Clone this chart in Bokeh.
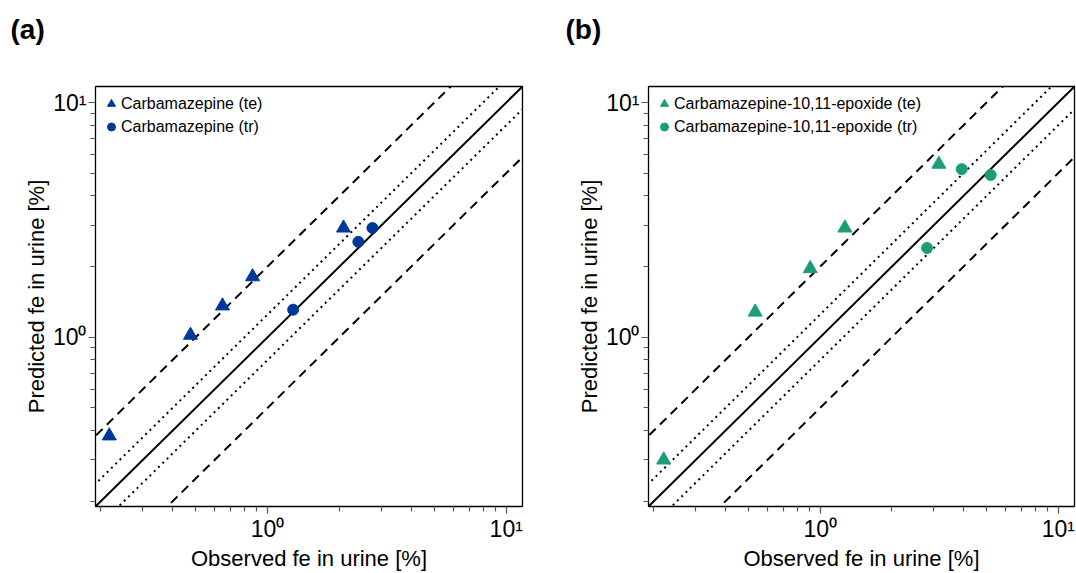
from bokeh.plotting import figure
from bokeh.models import Range1d, Legend, LegendItem, Title, FixedTicker
from bokeh.layouts import row
from bokeh.embed import file_html
from bokeh.resources import INLINE

# ---- data ----
a_te_obs = [0.217, 0.475, 0.647, 0.865, 2.08]
a_te_pred = [0.38, 1.02, 1.36, 1.81, 2.92]
a_tr_obs = [1.28, 2.40, 2.75]
a_tr_pred = [1.31, 2.55, 2.92]

b_te_obs = [0.22, 0.533, 0.908, 1.27, 3.15]
b_te_pred = [0.30, 1.28, 1.96, 2.92, 5.46]
b_tr_obs = [2.81, 3.93, 5.2]
b_tr_pred = [2.40, 5.2, 4.91]

ref_factors = [1.0, 1.25, 0.8, 2.0, 0.5]
ref_dashes = ["solid", "2 4", "2 4", "9 6", "9 6"]

axis_min, axis_max = 0.19, 11.7
line_lo, line_hi = 0.05, 50.0
major_ticks = [0.1, 1, 10]
minor_ticks = [0.2, 0.3, 0.4, 0.5, 0.6, 0.7, 0.8, 0.9, 2, 3, 4, 5, 6, 7, 8, 9]
tick_labels = {0.1: "10\u207b\u00b9", 1: "10\u2070", 10: "10\u00b9"}

BLUE = "#00389A"
GREEN = "#1B9E77"
FONT = "Liberation Sans"


def make_panel(tag, te_obs, te_pred, tr_obs, tr_pred, color, name, border_left, border_right,
               tag_dx):
    p = figure(width=538, height=573, x_axis_type="log", y_axis_type="log",
               x_range=Range1d(axis_min, axis_max), y_range=Range1d(axis_min, axis_max),
               output_backend="svg", toolbar_location=None, title=None,
               min_border_left=border_left, min_border_right=border_right,
               min_border_top=86, min_border_bottom=65)
    # spacer panel next to the frame, then the panel tag above it
    p.add_layout(Title(text=" ", text_font_size="1px", standoff=32), "above")
    p.add_layout(Title(text=tag, align="left", offset=tag_dx, standoff=14,
                       text_font=FONT, text_font_style="bold", text_font_size="28px",
                       text_color="black"), "above")
    p.background_fill_color = "white"
    p.border_fill_color = "white"
    p.outline_line_color = "black"
    p.outline_line_width = 1.3
    p.xgrid.visible = False
    p.ygrid.visible = False

    for f, d in zip(ref_factors, ref_dashes):
        p.line([line_lo, line_hi], [f * line_lo, f * line_hi], line_color="black",
               line_width=2, line_dash=d)

    r_te = p.scatter(te_obs, te_pred, marker="triangle", size=14, fill_color=color,
                     line_color=color)
    r_tr = p.scatter(tr_obs, tr_pred, marker="circle", size=11, fill_color=color,
                     line_color=color)

    legend = Legend(items=[LegendItem(label=name + " (te)", renderers=[r_te]),
                           LegendItem(label=name + " (tr)", renderers=[r_tr])],
                    location="top_left", margin=6, padding=3, spacing=0,
                    glyph_width=20, glyph_height=23, label_height=23,
                    label_standoff=0, background_fill_alpha=0, border_line_color=None,
                    label_text_font=FONT, label_text_font_size="16px",
                    label_text_color="black")
    p.add_layout(legend)

    for ax, lab in ((p.xaxis, "Observed fe in urine [%]"), (p.yaxis, "Predicted fe in urine [%]")):
        ax.ticker = FixedTicker(ticks=major_ticks, minor_ticks=minor_ticks)
        ax.axis_label = lab
        ax.axis_label_text_font = FONT
        ax.axis_label_text_font_size = "22px"
        ax.axis_label_text_font_style = "normal"
        ax.axis_label_text_color = "black"
        ax.axis_label_standoff = 1
        ax.major_label_text_font = FONT
        ax.major_label_text_font_size = "23px"
        ax.major_label_text_color = "black"
        ax.major_label_standoff = 2
        ax.major_label_overrides = tick_labels
        ax.axis_line_color = None
        ax.major_tick_in = 0
        ax.major_tick_out = 7
        ax.minor_tick_in = 0
        ax.minor_tick_out = 5
        ax.major_tick_line_color = "#555555"
        ax.minor_tick_line_color = "#555555"
        ax.major_tick_line_width = 1.2
        ax.minor_tick_line_width = 1.2
    return p


pa = make_panel("(a)", a_te_obs, a_te_pred, a_tr_obs, a_tr_pred, BLUE, "Carbamazepine",
                95, 16, -85)
pb = make_panel("(b)", b_te_obs, b_te_pred, b_tr_obs, b_tr_pred, GREEN,
                "Carbamazepine-10,11-epoxide", 110, 2, -83)

layout = row(pa, pb)
open("out.html", "w").write(file_html(layout, INLINE))
